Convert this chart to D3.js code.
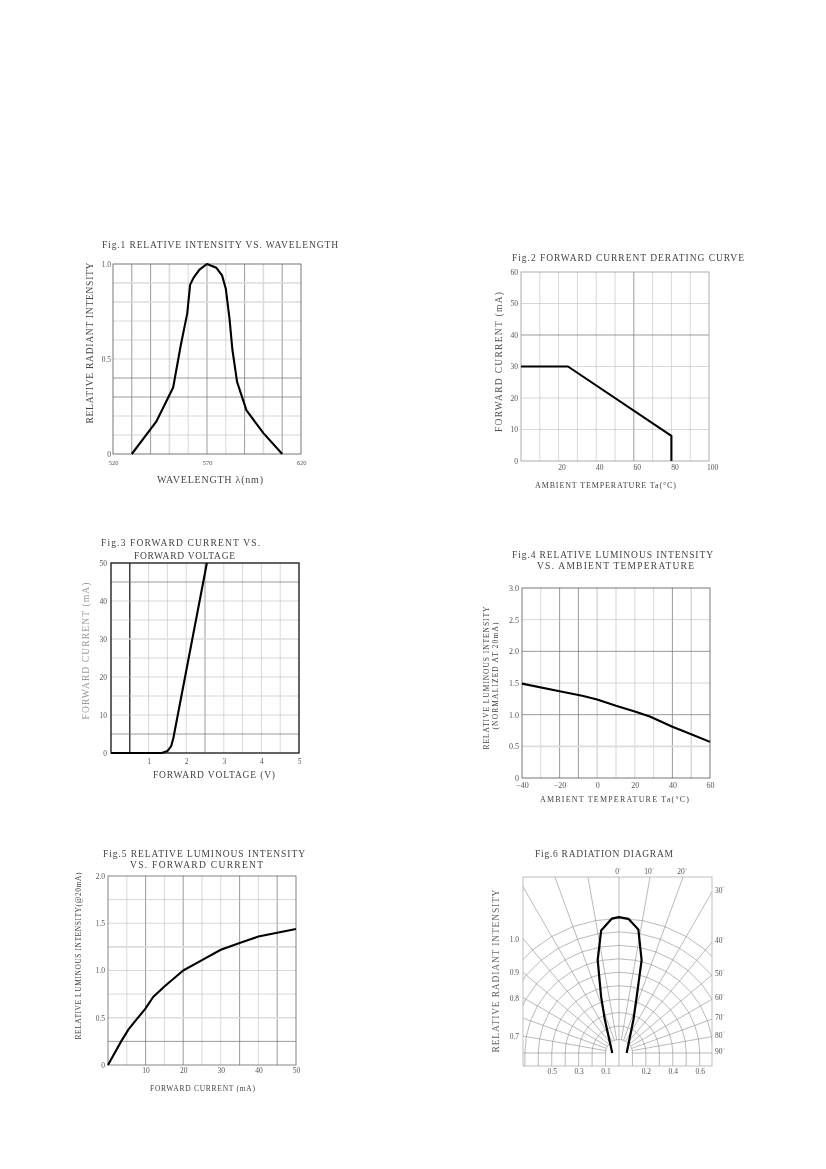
<!DOCTYPE html>
<html>
<head>
<meta charset="utf-8">
<script src="https://cdn.jsdelivr.net/npm/d3@7"></script>
<style>
  body { margin: 0; background: #fff; }
  svg { will-change: transform; }
</style>
</head>
<body>
<div id="page"></div>
<script>
// ---- data ----
const fig1Wavelength = [530, 543, 552, 556, 559.5, 561, 563, 566, 570, 575, 578, 580, 582, 583.5, 586, 591, 600, 610];
const fig1Intensity = [0, 0.17, 0.35, 0.57, 0.74, 0.89, 0.93, 0.97, 1.0, 0.98, 0.94, 0.87, 0.71, 0.55, 0.38, 0.23, 0.11, 0];

const fig2Temp = [0, 25, 80, 80];
const fig2Current = [30, 30, 8, 0];

const fig3Voltage = [0, 1.35, 1.5, 1.6, 1.66, 2.55];
const fig3Current = [0, 0, 0.5, 1.8, 4, 50];

const fig4Temp = [-40, -20, -8, 0, 10, 20, 28, 40, 50, 60];
const fig4Luminous = [1.49, 1.37, 1.3, 1.24, 1.14, 1.05, 0.97, 0.81, 0.69, 0.57];

const fig5Current = [0, 3.5, 5.5, 10, 12, 15, 20, 25, 30, 35, 40, 45, 50];
const fig5Luminous = [0, 0.25, 0.38, 0.6, 0.72, 0.83, 1.0, 1.11, 1.22, 1.29, 1.36, 1.4, 1.44];

const fig6Angle = [-90, -23, -17.6, -12.9, -8.3, -3.1, 0, 4, 8.9, 13.7, 17.4, 23.4, 90];
const fig6Intensity = [0.05, 0.27, 0.44, 0.71, 0.92, 1.0, 1.01, 1.0, 0.93, 0.71, 0.44, 0.27, 0.057];
const fig6Rings = [0.1, 0.2, 0.3, 0.4, 0.5, 0.6, 0.7, 0.8, 0.9, 1.0];
const fig6Spokes = [-90, -80, -70, -60, -50, -40, -30, -20, -10, 0, 10, 20, 30, 40, 50, 60, 70, 80, 90];
const fig6TopLabels = [0, 10, 20];
const fig6RightLabels = [30, 40, 50, 60, 70, 80, 90];
const fig6LeftLabels = ['1.0', '0.9', '0.8', '0.7'];
const fig6LeftAngles = [40, 50, 60, 80];
const fig6BottomTicks = [-0.5, -0.3, -0.1, 0.2, 0.4, 0.6];

// ---- page ----
const W = 826, H = 1169;
const FONT = '"Liberation Serif", "DejaVu Serif", serif';
const GRID = {
    normal: ['#bdbdbd', 0.6],
    dark: ['#707070', 0.7],
    pale: ['#dcdcdc', 1.6],
    black: ['#111', 1.2]
};

const svg = d3.select('#page').append('svg')
    .attr('width', W)
    .attr('height', H);
svg.append('rect').attr('width', W).attr('height', H).attr('fill', '#fff');

function addText(g, str, x, y, size, len, opts = {}) {
    const t = g.append('text')
        .attr('x', x)
        .attr('y', y)
        .attr('font-family', FONT)
        .attr('font-size', size)
        .attr('fill', opts.fill || '#444')
        .attr('text-anchor', opts.anchor || 'start')
        .text(str);
    if (len) t.attr('textLength', len).attr('lengthAdjust', 'spacing');
    if (opts.rotate) t.attr('transform', `rotate(-90,${x},${y})`);
    return t;
}

const oneDec = v => v === 0 ? '0' : d3.format('.1f')(v);

function drawPanel(o) {
    const g = svg.append('g');
    const [bx, by, bw, bh] = o.box;
    const x = d3.scaleLinear().domain(o.xDomain).range([bx, bx + bw]);
    const y = d3.scaleLinear().domain(o.yDomain).range([by + bh, by]);

    const kind = (v, s) => (s.black || []).includes(v) ? 'black'
        : (s.dark || []).includes(v) ? 'dark'
        : (s.pale || []).includes(v) ? 'pale' : 'normal';

    o.xGrid.forEach(v => {
        const [c, w] = GRID[kind(v, o.xStyle)];
        g.append('line')
            .attr('x1', x(v)).attr('x2', x(v))
            .attr('y1', by).attr('y2', by + bh)
            .attr('stroke', c).attr('stroke-width', w);
    });
    o.yGrid.forEach(v => {
        const [c, w] = GRID[kind(v, o.yStyle)];
        g.append('line')
            .attr('x1', bx).attr('x2', bx + bw)
            .attr('y1', y(v)).attr('y2', y(v))
            .attr('stroke', c).attr('stroke-width', w);
    });

    g.append('rect')
        .attr('x', bx).attr('y', by).attr('width', bw).attr('height', bh)
        .attr('fill', 'none')
        .attr('stroke', o.border[0]).attr('stroke-width', o.border[1]);

    // tick labels
    const ya = g.append('g')
        .attr('transform', `translate(${bx},0)`)
        .call(d3.axisLeft(y).tickValues(o.yTicks).tickFormat(o.yFormat).tickSize(0).tickPadding(o.yPad));
    ya.select('.domain').remove();
    ya.attr('font-family', FONT).attr('font-size', o.yTickSize || 7.5);
    ya.selectAll('text').attr('fill', '#555');

    const xa = g.append('g')
        .attr('transform', `translate(0,${by + bh})`)
        .call(d3.axisBottom(x).tickValues(o.xTicks).tickFormat(o.xFormat || (v => v)).tickSize(0).tickPadding(o.xPad));
    xa.select('.domain').remove();
    xa.attr('font-family', FONT).attr('font-size', o.xTickSize || 7.5);
    xa.selectAll('text').attr('fill', '#555').attr('dx', o.xShift || 0);

    const pts = o.xs.map((v, i) => [v, o.ys[i]]);
    g.append('path')
        .datum(pts)
        .attr('d', d3.line().x(d => x(d[0])).y(d => y(d[1])))
        .attr('fill', 'none')
        .attr('stroke', '#000')
        .attr('stroke-width', 2.1)
        .attr('stroke-linejoin', 'round');

    return g;
}

// Fig.1
const g1 = drawPanel({
    box: [113, 264, 188, 190],
    xDomain: [520, 620], yDomain: [0, 1],
    xGrid: [530, 540, 550, 560, 570, 580, 590, 600, 610],
    xStyle: { dark: [530, 540, 570, 590, 610], pale: [550, 600] },
    yGrid: [0.1, 0.2, 0.3, 0.4, 0.5, 0.6, 0.7, 0.8, 0.9],
    yStyle: { dark: [0.3, 0.4], pale: [0.8, 0.9] },
    border: ['#555', 0.8],
    yTicks: [0, 0.5, 1], yFormat: oneDec, yPad: 2,
    xTicks: [520, 570, 620], xPad: 6, xTickSize: 6.5,
    xs: fig1Wavelength, ys: fig1Intensity
});
addText(g1, 'Fig.1  RELATIVE  INTENSITY  VS.  WAVELENGTH', 102, 247.5, 9.5, 236);
addText(g1, 'RELATIVE  RADIANT  INTENSITY', 92.5, 343, 9.5, 161, { anchor: 'middle', rotate: true });
addText(g1, 'WAVELENGTH  λ(nm)', 210, 483, 10, 106, { anchor: 'middle' });

// Fig.2
const g2 = drawPanel({
    box: [521, 272, 188, 189],
    xDomain: [0, 100], yDomain: [0, 60],
    xGrid: [10, 20, 30, 40, 50, 60, 70, 80, 90],
    xStyle: { dark: [60] },
    yGrid: [10, 20, 30, 40, 50],
    yStyle: { dark: [40] },
    border: ['#999', 0.8],
    yTicks: [0, 10, 20, 30, 40, 50, 60], yFormat: v => v, yPad: 3,
    xTicks: [20, 40, 60, 80, 100], xPad: 3.5, xShift: 3,
    xs: fig2Temp, ys: fig2Current
});
addText(g2, 'Fig.2  FORWARD  CURRENT  DERATING  CURVE', 512, 260.5, 9.5, 232);
addText(g2, 'FORWARD  CURRENT  (mA)', 501.5, 362, 9.5, 140, { anchor: 'middle', rotate: true, fill: '#555' });
addText(g2, 'AMBIENT  TEMPERATURE  Ta(°C)', 605.5, 488, 8, 141, { anchor: 'middle' });

// Fig.3
const g3 = drawPanel({
    box: [111, 563, 188, 190],
    xDomain: [0, 5], yDomain: [0, 50],
    xGrid: [0.5, 1, 1.5, 2, 2.5, 3, 3.5, 4, 4.5],
    xStyle: { black: [0.5], dark: [2.5] },
    yGrid: [5, 10, 15, 20, 25, 30, 35, 40, 45],
    yStyle: { dark: [5, 45], pale: [30] },
    border: ['#111', 1.3],
    yTicks: [0, 10, 20, 30, 40, 50], yFormat: v => v, yPad: 4,
    xTicks: [1, 2, 3, 4, 5], xPad: 5.5,
    xs: fig3Voltage, ys: fig3Current
});
addText(g3, 'Fig.3  FORWARD  CURRENT  VS.', 101, 545.5, 9.5, 159);
addText(g3, 'FORWARD  VOLTAGE', 134, 558.5, 9.5, 101);
addText(g3, 'FORWARD  CURRENT  (mA)', 88.5, 651, 9.5, 137, { anchor: 'middle', rotate: true, fill: '#9a9a9a' });
addText(g3, 'FORWARD  VOLTAGE  (V)', 214, 777.5, 9.5, 122, { anchor: 'middle' });

// Fig.4
const g4 = drawPanel({
    box: [522, 588, 188, 190],
    xDomain: [-40, 60], yDomain: [0, 3],
    xGrid: [-30, -20, -10, 0, 10, 20, 30, 40, 50],
    xStyle: { dark: [-20, -10, 40], pale: [0, 50] },
    yGrid: [0.5, 1, 1.5, 2, 2.5],
    yStyle: { dark: [1, 2], pale: [0.5] },
    border: ['#555', 0.8],
    yTicks: [0, 0.5, 1, 1.5, 2, 2.5, 3], yFormat: oneDec, yPad: 3, yTickSize: 8,
    xTicks: [-40, -20, 0, 20, 40, 60], xFormat: v => v < 0 ? '\u2212' + (-v) : v, xPad: 4.5, xTickSize: 8,
    xs: fig4Temp, ys: fig4Luminous
});
addText(g4, 'Fig.4  RELATIVE  LUMINOUS  INTENSITY', 512, 557.5, 9.5, 201);
addText(g4, 'VS.  AMBIENT  TEMPERATURE', 537, 568.5, 9.5, 157);
addText(g4, 'RELATIVE  LUMINOUS  INTENSITY', 489, 678, 7.5, 143, { anchor: 'middle', rotate: true });
addText(g4, '(NORMALIZED  AT  20mA)', 498, 676, 7.5, 107, { anchor: 'middle', rotate: true });
addText(g4, 'AMBIENT  TEMPERATURE  Ta(°C)', 614.5, 802, 8, 149, { anchor: 'middle' });

// Fig.5
const g5 = drawPanel({
    box: [108, 876, 188, 189],
    xDomain: [0, 50], yDomain: [0, 2],
    xGrid: [5, 10, 15, 20, 25, 30, 35, 40, 45],
    xStyle: { dark: [10, 20, 35, 45] },
    yGrid: [0.25, 0.5, 0.75, 1, 1.25, 1.5, 1.75],
    yStyle: { dark: [0.25], pale: [0.5, 1.25] },
    border: ['#666', 0.8],
    yTicks: [0, 0.5, 1, 1.5, 2], yFormat: oneDec, yPad: 3,
    xTicks: [10, 20, 30, 40, 50], xPad: 2.5,
    xs: fig5Current, ys: fig5Luminous
});
addText(g5, 'Fig.5  RELATIVE  LUMINOUS  INTENSITY', 103, 856.5, 9.5, 202);
addText(g5, 'VS.  FORWARD  CURRENT', 130, 867.5, 9.5, 133);
addText(g5, 'RELATIVE  LUMINOUS  INTENSITY(@20mA)', 80.5, 956, 7.5, 167, { anchor: 'middle', rotate: true });
addText(g5, 'FORWARD  CURRENT  (mA)', 202.5, 1091, 7.5, 105, { anchor: 'middle' });

// Fig.6 radiation diagram
function drawRadiation() {
    const g = svg.append('g');
    const box = [523, 877, 189, 189];
    const cx = 619, cy = 1053;
    const right = box[0] + box[2], bottom = box[1] + box[3];
    const r = d3.scaleLinear().domain([0, 1]).range([0, 134.5]);
    const xr = d3.scaleLinear().domain([-1, 1]).range([cx - r(1), cx + r(1)]);
    const rad = a => a * Math.PI / 180;

    svg.append('defs').append('clipPath').attr('id', 'clip6')
        .append('rect').attr('x', box[0]).attr('y', box[1]).attr('width', box[2]).attr('height', box[3]);

    const gg = g.append('g').attr('clip-path', 'url(#clip6)');
    const polar = d3.lineRadial().angle(d => rad(d[0])).radius(d => r(d[1]));
    const gridStroke = sel => sel.attr('fill', 'none').attr('stroke', '#8c8c8c').attr('stroke-width', 0.6);

    fig6Rings.forEach(v => {
        gg.append('path')
            .attr('transform', `translate(${cx},${cy})`)
            .attr('d', polar(fig6Spokes.map(a => [a, v])))
            .call(gridStroke);
        [-v, v].forEach(s => {
            gg.append('line')
                .attr('x1', xr(s)).attr('x2', xr(s))
                .attr('y1', cy).attr('y2', bottom)
                .call(gridStroke);
        });
    });
    fig6Spokes.forEach(a => {
        gg.append('path')
            .attr('transform', `translate(${cx},${cy})`)
            .attr('d', polar([[a, fig6Rings[0]], [a, 3]]))
            .call(gridStroke);
    });
    gg.append('line')
        .attr('x1', cx).attr('x2', cx)
        .attr('y1', cy - r(fig6Rings[0])).attr('y2', bottom)
        .call(gridStroke);

    g.append('rect')
        .attr('x', box[0]).attr('y', box[1]).attr('width', box[2]).attr('height', box[3])
        .attr('fill', 'none').attr('stroke', '#b0b0b0').attr('stroke-width', 0.8);

    // lobe
    g.append('path')
        .datum(fig6Angle.map((a, i) => [a, fig6Intensity[i]]))
        .attr('transform', `translate(${cx},${cy})`)
        .attr('d', polar)
        .attr('fill', 'none')
        .attr('stroke', '#000')
        .attr('stroke-width', 2.2)
        .attr('stroke-linejoin', 'round');

    // angle labels
    const deg = (t, n) => {
        t.append('tspan').text(n);
        t.append('tspan').attr('font-size', 5).attr('dy', -3.5).text('°');
    };
    fig6TopLabels.forEach(a => {
        const lx = cx + (cy - box[1]) * Math.tan(rad(a));
        const t = addText(g, '', lx - 1, 874, 7.5, null, { anchor: 'middle', fill: '#555' });
        deg(t, a);
    });
    fig6RightLabels.forEach(a => {
        const ly = a === 90 ? cy : cy - (right - cx) / Math.tan(rad(a));
        const t = addText(g, '', right + 3, ly + 1, 7.5, null, { fill: '#555' });
        deg(t, a);
    });
    fig6LeftLabels.forEach((s, i) => {
        const ly = cy - (cx - box[0]) / Math.tan(rad(fig6LeftAngles[i]));
        addText(g, s, 519, ly + 3, 7.5, null, { anchor: 'end', fill: '#555' });
    });

    const xa = g.append('g')
        .attr('transform', `translate(0,${bottom})`)
        .call(d3.axisBottom(xr).tickValues(fig6BottomTicks).tickFormat(v => Math.abs(v).toFixed(1)).tickSize(0).tickPadding(3));
    xa.select('.domain').remove();
    xa.attr('font-family', FONT).attr('font-size', 7.5);
    xa.selectAll('text').attr('fill', '#555');

    addText(g, 'Fig.6  RADIATION  DIAGRAM', 535, 856.5, 9.5, 138);
    addText(g, 'RELATIVE  RADIANT  INTENSITY', 498.5, 971, 9.5, 163, { anchor: 'middle', rotate: true, fill: '#666' });
}
drawRadiation();
</script>
</body>
</html>
